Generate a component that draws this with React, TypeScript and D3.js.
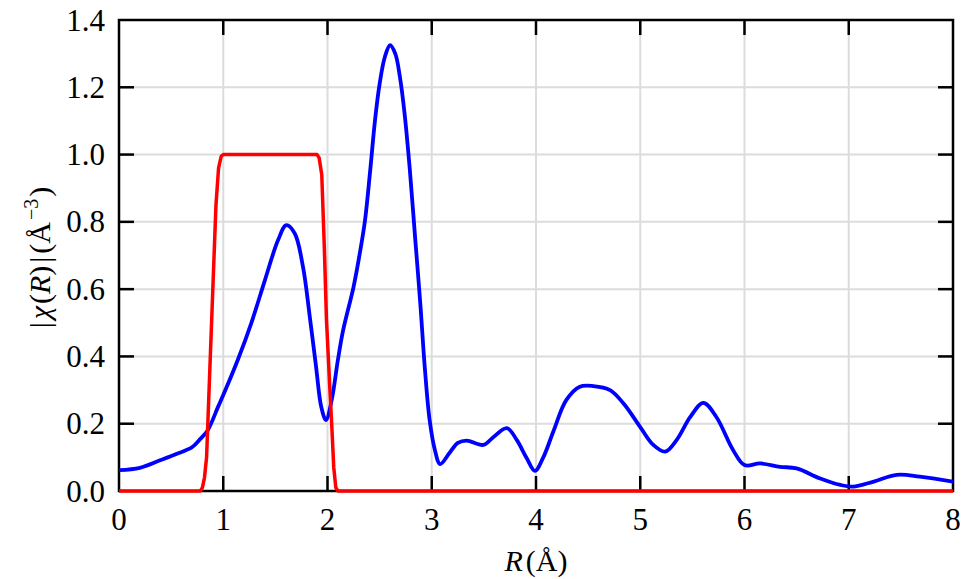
import React from "react";
import * as d3 from "d3";

const blueX = [0, 0.2, 0.4, 0.55, 0.7, 0.78, 0.85, 0.95, 1.0, 1.14, 1.27, 1.4, 1.525, 1.605, 1.685, 1.765, 1.83, 1.89, 1.94, 1.985, 2.04, 2.1, 2.15, 2.25, 2.31, 2.36, 2.41, 2.455, 2.5, 2.55, 2.6, 2.65, 2.695, 2.74, 2.79, 2.84, 2.89, 2.935, 2.98, 3.03, 3.08, 3.17, 3.25, 3.335, 3.495, 3.59, 3.72, 3.815, 3.91, 3.99, 4.07, 4.17, 4.29, 4.42, 4.55, 4.71, 4.84, 5.0, 5.125, 5.24, 5.35, 5.48, 5.605, 5.73, 5.89, 6.0, 6.15, 6.34, 6.5, 6.72, 6.92, 7.04, 7.24, 7.46, 7.68, 8.0];
const blueY = [0.062, 0.069, 0.092, 0.11, 0.13, 0.155, 0.18, 0.25, 0.285, 0.39, 0.5, 0.627, 0.745, 0.79, 0.766, 0.666, 0.518, 0.37, 0.25, 0.211, 0.27, 0.39, 0.478, 0.607, 0.707, 0.805, 0.954, 1.1, 1.21, 1.29, 1.325, 1.3, 1.23, 1.12, 0.954, 0.755, 0.558, 0.36, 0.21, 0.122, 0.08, 0.113, 0.143, 0.15, 0.137, 0.16, 0.187, 0.152, 0.098, 0.06, 0.1, 0.18, 0.27, 0.31, 0.312, 0.3, 0.26, 0.19, 0.137, 0.117, 0.152, 0.22, 0.262, 0.22, 0.122, 0.077, 0.082, 0.072, 0.067, 0.038, 0.018, 0.013, 0.028, 0.048, 0.043, 0.028];

const redX = [0, 0.78, 0.8, 0.82, 0.84, 0.87, 0.9, 0.93, 0.955, 0.98, 1.0, 1.9, 1.92, 1.945, 1.97, 1.99, 2.02, 2.04, 2.06, 2.08, 2.1, 8];
const redY = [0, 0, 0.01, 0.04, 0.1, 0.35, 0.6, 0.85, 0.96, 0.995, 1.0, 1.0, 0.99, 0.94, 0.72, 0.51, 0.32, 0.2, 0.07, 0.01, 0, 0];

const xTicks = [0, 1, 2, 3, 4, 5, 6, 7, 8];
const yTicks = [0, 0.2, 0.4, 0.6, 0.8, 1.0, 1.2, 1.4];

const W = 968, H = 579;
const L = 119, R = 953, T = 20, B = 491;
const FONT = "Liberation Serif, Times New Roman, Times, serif";

export default function App() {
  const x = d3.scaleLinear().domain([0, 8]).range([L, R]);
  const y = d3.scaleLinear().domain([0, 1.4]).range([B, T]);
  const blue = blueX.map((v, i) => [v, blueY[i]] as [number, number]);
  const red = redX.map((v, i) => [v, redY[i]] as [number, number]);
  const blueLine = d3.line<[number, number]>().x(d => x(d[0])).y(d => y(d[1])).curve(d3.curveCatmullRom.alpha(0.5));
  const redLine = d3.line<[number, number]>().x(d => x(d[0])).y(d => y(d[1]));
  const tickLen = 15;
  const ts = { fontFamily: FONT };
  return (
    <svg width={W} height={H} style={{ position: "absolute", left: 0, top: 0, background: "#fff" }}>
      <defs>
        <clipPath id="plot">
          <rect x={L} y={T - 2} width={R - L} height={B - T + 4} />
        </clipPath>
      </defs>
      {xTicks.slice(1, -1).map(t => (
        <line key={"gx" + t} x1={x(t)} x2={x(t)} y1={T} y2={B} stroke="#dcdcdc" strokeWidth={2} />
      ))}
      {yTicks.slice(1, -1).map(t => (
        <line key={"gy" + t} x1={L} x2={R} y1={y(t)} y2={y(t)} stroke="#dcdcdc" strokeWidth={2} />
      ))}
      {xTicks.slice(1, -1).map(t => (
        <g key={"tx" + t} stroke="#000" strokeWidth={2.5}>
          <line x1={x(t)} x2={x(t)} y1={B} y2={B - tickLen} />
          <line x1={x(t)} x2={x(t)} y1={T} y2={T + tickLen} />
        </g>
      ))}
      {yTicks.slice(1, -1).map(t => (
        <g key={"ty" + t} stroke="#000" strokeWidth={2.5}>
          <line x1={L} x2={L + tickLen} y1={y(t)} y2={y(t)} />
          <line x1={R} x2={R - tickLen} y1={y(t)} y2={y(t)} />
        </g>
      ))}
      <rect x={L} y={T} width={R - L} height={B - T} fill="none" stroke="#000" strokeWidth={2.5} />
      <g clipPath="url(#plot)">
        <path d={blueLine(blue) || ""} fill="none" stroke="#0000ff" strokeWidth={3.8} strokeLinejoin="round" />
        <path d={redLine(red) || ""} fill="none" stroke="#ff0000" strokeWidth={3.5} strokeLinejoin="round" />
      </g>
      {xTicks.map(t => (
        <text key={"lx" + t} style={ts} x={x(t)} y={530} textAnchor="middle" fontSize={31}>{t}</text>
      ))}
      {yTicks.map(t => (
        <text key={"ly" + t} style={ts} x={105} y={y(t)} dy="0.34em" textAnchor="end" fontSize={31}>{t.toFixed(1)}</text>
      ))}
      <text style={ts} x={(L + R) / 2} y={571} textAnchor="middle" fontSize={30}>
        <tspan fontStyle="italic">R</tspan>
        <tspan dx={3}>(Å)</tspan>
      </text>
      <text style={ts} transform={`translate(50,${(T + B) / 2 + 2}) rotate(-90)`} textAnchor="middle" fontSize={30}>
        <tspan>|</tspan>
        <tspan dx={3} fontStyle="italic">χ</tspan>
        <tspan dx={2}>(</tspan>
        <tspan fontStyle="italic">R</tspan>
        <tspan>)</tspan>
        <tspan dx={3}>|</tspan>
        <tspan dx={3}>(Å</tspan>
        <tspan dx={2} fontSize={20} dy={-12}>−3</tspan>
        <tspan dx={2} dy={12}>)</tspan>
      </text>
    </svg>
  );
}
